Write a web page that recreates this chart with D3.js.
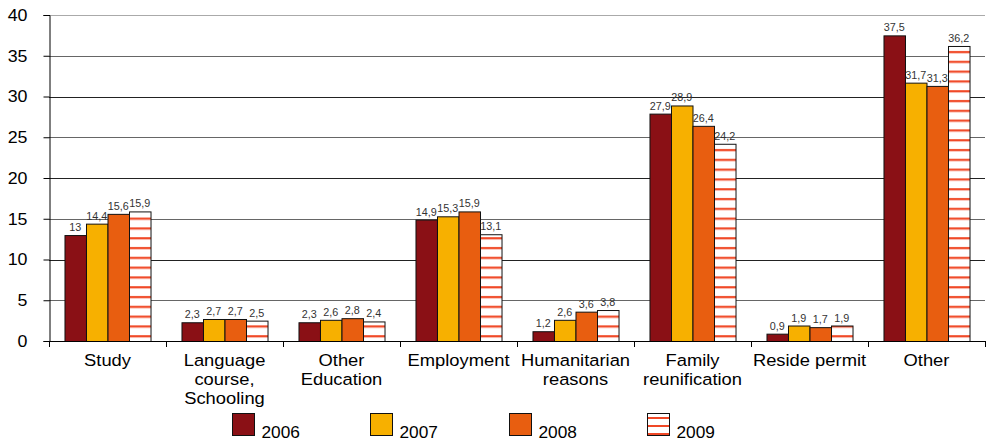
<!DOCTYPE html>
<html><head><meta charset="utf-8">
<script src="https://cdn.jsdelivr.net/npm/d3@7"></script>
<style>body{margin:0;background:#fff}svg{display:block;font-family:"Liberation Sans",Arial,sans-serif}</style>
</head><body><svg id="c" width="989" height="442"></svg>
<script>
const categories = [["Study"],["Language","course,","Schooling"],["Other","Education"],["Employment"],["Humanitarian","reasons"],["Family","reunification"],["Reside permit"],["Other"]];
const years = ["2006","2007","2008","2009"];
const v2006 = [13,2.3,2.3,14.9,1.2,27.9,0.9,37.5];
const v2007 = [14.4,2.7,2.6,15.3,2.6,28.9,1.9,31.7];
const v2008 = [15.6,2.7,2.8,15.9,3.6,26.4,1.7,31.3];
const v2009 = [15.9,2.5,2.4,13.1,3.8,24.2,1.9,36.2];
const yTicks = [0,5,10,15,20,25,30,35,40];
(function(){
const series = [v2006,v2007,v2008,v2009];
const colors = ["#8a1015","#f7b000","#e85e10","url(#stripes)"];
const SX = 1.08;

const svg = d3.select("#c");
const defs = svg.append("defs");
const pat = defs.append("pattern").attr("id","stripes").attr("patternUnits","userSpaceOnUse")
  .attr("width",8).attr("height",9.8).attr("y",341);
pat.append("rect").attr("width",8).attr("height",9.8).attr("fill","#fff");
pat.append("rect").attr("y",4).attr("width",8).attr("height",2.2).attr("fill","#f04826");

const mL=49,mR=985,mT=15,mB=341;
const y = d3.scaleLinear().domain([0,40]).range([mB,mT]);
const x0 = d3.scaleBand().domain(d3.range(categories.length)).range([mL,mR]).padding(0);
const x1 = d3.scaleBand().domain(years).range([0,x0.bandwidth()]).paddingInner(0).paddingOuter(0.72);

svg.append("g").selectAll("line").data(yTicks.filter(t=>t>0)).join("line")
  .attr("x1",mL).attr("x2",mR).attr("y1",d=>Math.round(y(d))+0.5).attr("y2",d=>Math.round(y(d))+0.5)
  .attr("stroke",(d)=>d===40?"#aaa":(d%10===5?"#666":"#222")).attr("stroke-width",1);

const ya = svg.append("g").attr("transform",`translate(${mL+0.5},0)`)
  .call(d3.axisLeft(y).tickValues(yTicks).tickSize(6).tickPadding(16).tickFormat(d3.format("d")));
ya.select(".domain").attr("stroke","#000");
ya.selectAll(".tick line").attr("stroke","#000");
ya.selectAll(".tick text").each(function(){
  const t = d3.select(this); const xx = +t.attr("x");
  t.attr("x",0).attr("transform",`translate(${xx},0) scale(${SX},1)`);
}).attr("font-size",16.5).attr("fill","#000").attr("font-family","Liberation Sans, Arial, sans-serif");

const fmt = v => String(v).replace(".",",");
series.forEach((vals,si)=>{
  const g = svg.append("g");
  g.selectAll("rect").data(vals).join("rect")
    .attr("x",(d,i)=>x0(i)+x1(years[si])+0.5)
    .attr("y",d=>y(d)+0.5)
    .attr("width",x1.bandwidth())
    .attr("height",d=>mB-y(d))
    .attr("fill",colors[si]).attr("stroke","#111").attr("stroke-width",1);
  g.selectAll("text").data(vals).join("text")
    .attr("transform",(d,i)=>`translate(${x0(i)+x1(years[si])+x1.bandwidth()/2},${y(d)-4}) scale(${SX},1)`)
    .attr("text-anchor","middle").attr("font-size",10).attr("fill","#333")
    .text(fmt);
});

svg.append("line").attr("x1",mL).attr("x2",mR).attr("y1",mB+0.5).attr("y2",mB+0.5).attr("stroke","#000");
svg.append("g").selectAll("line").data(d3.range(categories.length+1)).join("line")
  .attr("x1",i=>Math.round(mL+i*x0.step())+0.5).attr("x2",i=>Math.round(mL+i*x0.step())+0.5)
  .attr("y1",mB).attr("y2",mB+6).attr("stroke","#000");
const cl = svg.append("g").selectAll("text").data(categories).join("text")
  .attr("transform",(d,i)=>`translate(${x0(i)+x0.bandwidth()/2},366) scale(${SX},1)`)
  .attr("text-anchor","middle").attr("font-size",17).attr("fill","#000");
cl.each(function(d){
  d3.select(this).selectAll("tspan").data(d).join("tspan")
    .attr("x",0).attr("dy",(t,j)=>j===0?0:19).text(t=>t);
});

const lx = d3.scaleBand().domain(years).range([232,785]);
const lg = svg.append("g").selectAll("g").data(years).join("g")
  .attr("transform",d=>`translate(${Math.round(lx(d))},413)`);
const lpat = defs.append("pattern").attr("id","lstripes").attr("patternUnits","userSpaceOnUse")
  .attr("width",23).attr("height",8).attr("y",420);
lpat.append("rect").attr("width",23).attr("height",8).attr("fill","#fff");
lpat.append("rect").attr("y",0).attr("width",23).attr("height",2).attr("fill","#f04826");
lg.append("rect").attr("x",0.5).attr("y",0.5).attr("width",22).attr("height",22)
  .attr("fill",(d,i)=>i===3?"url(#lstripes)":colors[i]).attr("stroke","#111");
lg.append("text").attr("transform",`translate(29.5,24.5) scale(${SX},1)`)
  .attr("font-size",16).attr("fill","#000").text(d=>d);
})();
</script></body></html>
